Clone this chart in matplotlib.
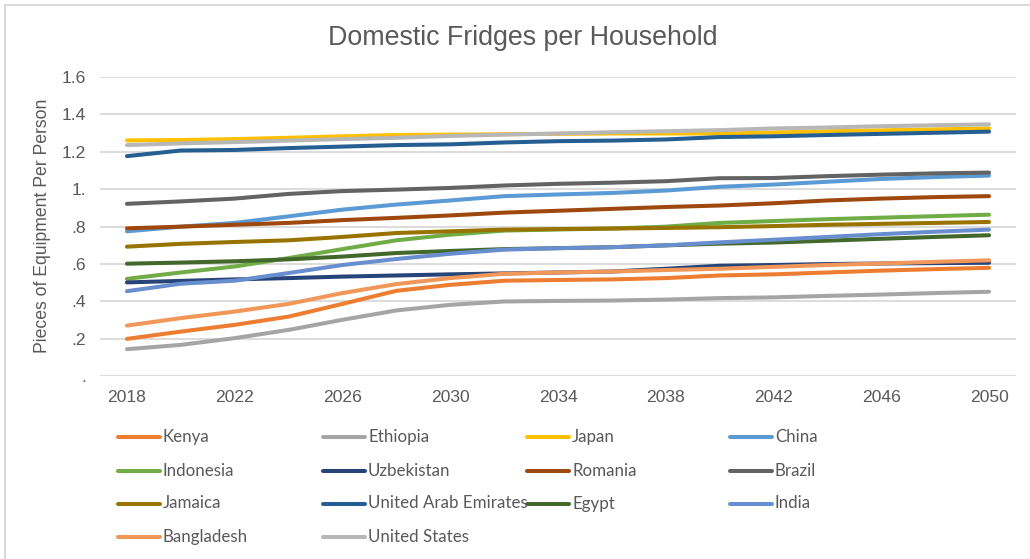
import numpy as np
import matplotlib.pyplot as plt
from matplotlib.lines import Line2D

years = list(range(2018, 2051, 2))

kenya = [.200, .239, .275, .319, .387, .457, .489, .511, .515, .518, .525, .539, .545, .555, .565, .573, .580]
ethiopia = [.145, .168, .204, .248, .302, .352, .382, .400, .403, .405, .410, .418, .422, .430, .437, .445, .452]
japan = [1.261, 1.263, 1.268, 1.275, 1.283, 1.290, 1.292, 1.294, 1.296, 1.298, 1.298, 1.298, 1.303, 1.310, 1.315, 1.320, 1.325]
china = [.775, .800, .820, .855, .891, .918, .940, .963, .972, .980, .993, 1.013, 1.025, 1.040, 1.055, 1.065, 1.073]
indonesia = [.521, .555, .587, .632, .680, .727, .757, .779, .785, .790, .800, .820, .830, .840, .848, .856, .864]
uzbekistan = [.502, .510, .518, .525, .533, .539, .545, .550, .555, .560, .575, .591, .595, .600, .603, .605, .607]
romania = [.791, .800, .810, .820, .835, .847, .860, .875, .885, .895, .905, .913, .925, .940, .950, .958, .963]
brazil = [.922, .935, .950, .975, .990, .998, 1.007, 1.020, 1.029, 1.035, 1.043, 1.059, 1.060, 1.070, 1.078, 1.085, 1.089]
jamaica = [.693, .708, .718, .727, .745, .766, .775, .784, .787, .790, .793, .797, .803, .810, .815, .820, .825]
uae = [1.177, 1.207, 1.210, 1.220, 1.228, 1.236, 1.240, 1.250, 1.257, 1.260, 1.266, 1.279, 1.283, 1.290, 1.296, 1.302, 1.308]
egypt = [.602, .608, .615, .625, .640, .659, .670, .680, .685, .690, .700, .709, .715, .725, .735, .745, .754]
india = [.455, .495, .511, .552, .595, .627, .655, .677, .685, .690, .700, .716, .730, .745, .760, .773, .784]
bangladesh = [.271, .311, .346, .387, .445, .493, .525, .548, .555, .560, .568, .575, .585, .595, .603, .612, .620]
usa = [1.236, 1.245, 1.252, 1.260, 1.268, 1.275, 1.285, 1.292, 1.298, 1.305, 1.310, 1.316, 1.325, 1.330, 1.337, 1.342, 1.347]

names = ['Kenya', 'Ethiopia', 'Japan', 'China', 'Indonesia', 'Uzbekistan', 'Romania',
         'Brazil', 'Jamaica', 'United Arab Emirates', 'Egypt', 'India', 'Bangladesh',
         'United States']
series = [kenya, ethiopia, japan, china, indonesia, uzbekistan, romania,
          brazil, jamaica, uae, egypt, india, bangladesh, usa]
colors = ['#ED7D31', '#A5A5A5', '#FFC000', '#5B9BD5', '#70AD47', '#264478', '#9E480E',
          '#636363', '#997300', '#255E91', '#43682B', '#698ED0', '#F1975A', '#B7B7B7']

x_ticks = list(range(2018, 2051, 4))
y_ticks = [0, 0.2, 0.4, 0.6, 0.8, 1.0, 1.2, 1.4, 1.6]
y_labels = ['.', '.2', '.4', '.6', '.8', '1.', '1.2', '1.4', '1.6']

W, H = 1030, 559
fig = plt.figure(figsize=(W / 100, H / 100), dpi=100)
ax = fig.add_axes([100 / W, 1 - 376.3 / H, 916 / W, 299.3 / H])

for vals, c in zip(series, colors):
    ax.plot(years, vals, color=c, lw=2.9, solid_capstyle='round', solid_joinstyle='round')

ax.set_xlim(2017, 2051)
ax.set_ylim(0, 1.6)
ax.set_xticks(x_ticks)
ax.set_yticks(y_ticks)
ax.set_yticklabels(y_labels)
ax.tick_params(length=0, labelsize=12.6, labelcolor='#595959', pad=10)
for lab in ax.get_xticklabels() + ax.get_yticklabels():
    lab.set_family('Liberation Sans')
ax.grid(axis='y', color='#D9D9D9', lw=1.3)
ax.set_axisbelow(True)
for s in ax.spines.values():
    s.set_visible(False)

fig.text(43 / W, 1 - 226 / H, 'Pieces of Equipment Per Person', rotation=90,
         ha='center', va='center', fontsize=12.7, color='#595959', family='Liberation Sans')
fig.text(523 / W, 1 - 38 / H, 'Domestic Fridges per Household', ha='center', va='center',
         fontsize=19.3, color='#595959', family='Liberation Sans')

# legend laid out by hand in 4 columns
col_x = [118, 323, 527, 730]
row_y = [437, 470.5, 503.5, 537]
for i, (name, c) in enumerate(zip(names, colors)):
    r, k = divmod(i, 4)
    x0 = col_x[k]
    y0 = 1 - row_y[r] / H
    fig.add_artist(Line2D([x0 / W, (x0 + 42) / W], [y0, y0], color=c, lw=2.9,
                          solid_capstyle='round', transform=fig.transFigure))
    fig.text((x0 + 45) / W, y0, name, ha='left', va='center', fontsize=12.2,
             color='#595959', family=['Lato', 'DejaVu Sans'])

# chart frame (top and left edges)
fig.add_artist(Line2D([5 / W, 1], [1 - 5 / H, 1 - 5 / H], color='#D9D9D9', lw=1.5,
                      transform=fig.transFigure))
fig.add_artist(Line2D([5 / W, 5 / W], [0, 1 - 5 / H], color='#D9D9D9', lw=1.5,
                      transform=fig.transFigure))

fig.savefig('out.png', dpi=100)
